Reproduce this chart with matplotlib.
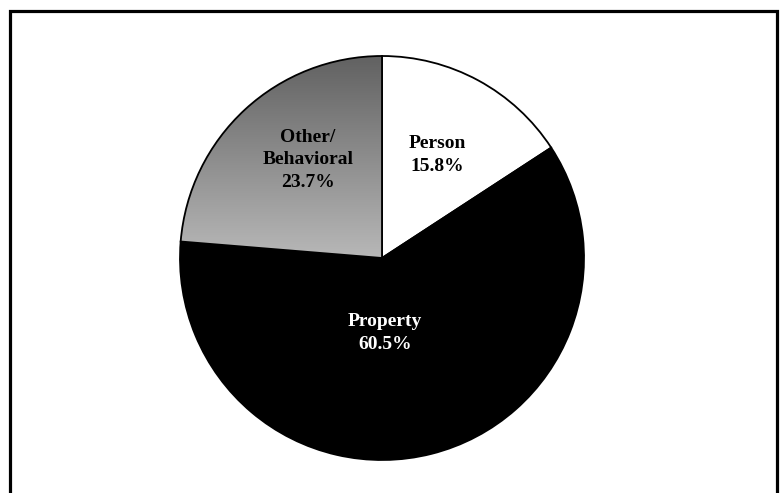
import matplotlib
matplotlib.use("Agg")
import matplotlib.pyplot as plt
import numpy as np
from matplotlib.patches import Rectangle

categories = ["Person", "Property", "Other/\nBehavioral"]
shares = [15.8, 60.5, 23.7]
colors = ["white", "black", "#a0a0a0"]
label_pos = [(437, 338), (385, 160), (308, 333)]
label_colors = ["black", "white", "black"]

W, H = 783, 493
fig = plt.figure(figsize=(W / 100, H / 100), dpi=100)
ax = fig.add_axes([0, 0, 1, 1])

wedges, _ = ax.pie(shares, center=(382, 235), radius=202, startangle=90,
                   counterclock=False, colors=colors, frame=True,
                   wedgeprops=dict(edgecolor="black", linewidth=1.3))

# vertical gray gradient on the Other/Behavioral slice
grad = np.linspace(0, 1, 256).reshape(-1, 1)
img = ax.imshow(grad, cmap=matplotlib.colors.LinearSegmentedColormap.from_list(
    "g", ["#dcdcdc", "#5e5e5e"]), extent=(170, 390, 150, 445),
    origin="lower", aspect="auto", zorder=1.5)
img.set_clip_path(wedges[2])
wedges[2].set_zorder(2)
wedges[2].set_facecolor("none")

for name, val, (x, y), c in zip(categories, shares, label_pos, label_colors):
    ax.text(x, y, f"{name}\n{val:.1f}%", ha="center", va="center", color=c,
            fontsize=14, fontweight="bold", family="Liberation Serif",
            linespacing=1.45, zorder=3)

# outer frame, open at the bottom
ax.add_patch(Rectangle((9.5, -20), 767.5, 502.5, fill=False,
                       edgecolor="black", linewidth=2.3, zorder=4))

ax.set_xlim(0, W)
ax.set_ylim(0, H)
ax.set_aspect("auto")
ax.axis("off")
fig.savefig("out.png", dpi=100)
